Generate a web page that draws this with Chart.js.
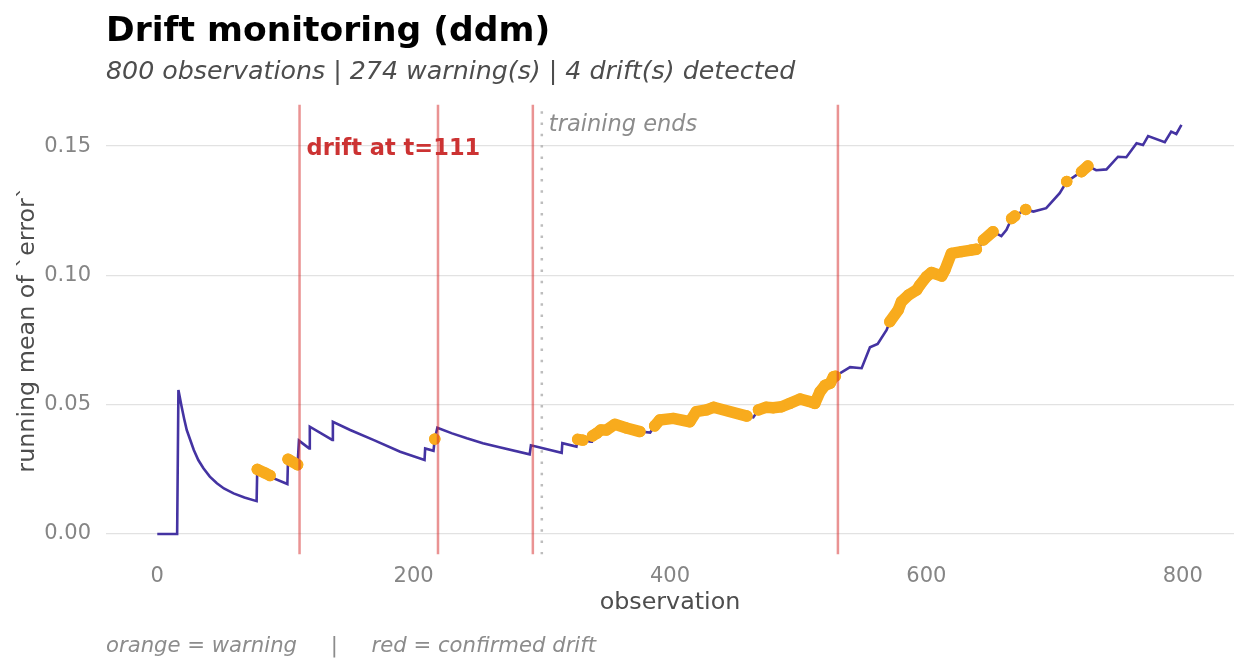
<!DOCTYPE html>
<html>
<head>
<meta charset="utf-8">
<title>Drift monitoring (ddm)</title>
<script src="https://cdn.jsdelivr.net/npm/chart.js@4.4.1/dist/chart.umd.min.js"></script>
<style>
  html, body { margin: 0; padding: 0; background: #ffffff; }
  #wrap { width: 1248px; height: 672px; }
</style>
</head>
<body>
<div id="wrap"><canvas id="driftChart" width="1248" height="672"></canvas></div>
<script>
// running mean of `error`, vertices
const obsX = [0, 15.5, 16.5, 19, 21, 23, 28.5, 32, 36, 41, 46.5, 52, 59.5, 68, 77.5, 78, 88, 90.5, 101.5, 102, 109.5,
  110.5, 118.5, 119, 136.5, 137, 150.5, 169, 189.5, 208.5, 209, 215.5, 216.5, 218.5, 230, 241.5, 254, 267, 290.5,
  291.5, 306.5, 315.5, 316, 327, 328, 333, 338.5, 339, 343, 346, 350.5, 357, 366, 376.5, 384.5, 388, 392,
  402.5, 415.5, 420.5, 428.5, 434, 460, 465, 469, 475, 480.5, 487, 493.5, 501.5, 509, 513, 517, 521, 525,
  527.5, 532.5, 540.5, 549.5, 556, 562, 569, 571.5, 578, 580.5, 586, 592.5, 595, 600, 604, 612, 614.5,
  619.5, 627.5, 635, 639, 641.5, 644.5, 652, 658.5, 662.5, 666.5, 669, 677.5, 683.5, 693.5, 704, 709.5,
  717, 721, 726, 732.5, 740.5, 749.5, 756, 764, 769, 773, 786, 791, 795, 799];
const runMean = [0, 0, 0.0557, 0.0492, 0.0445, 0.0402, 0.0325, 0.0286, 0.0254, 0.0222, 0.0196, 0.0176, 0.0157,
  0.0141, 0.0127, 0.0250, 0.0226, 0.0216, 0.0193, 0.0289, 0.0268,
  0.0361, 0.0331, 0.0415, 0.0364, 0.0434, 0.0402, 0.0363, 0.0318, 0.0286, 0.0331, 0.0322, 0.0367, 0.0411,
  0.0389, 0.0370, 0.0351, 0.0335, 0.0308,
  0.0343, 0.0325, 0.0314, 0.0351, 0.0338, 0.0366, 0.0362, 0.0357, 0.0379, 0.0390, 0.0402, 0.0402, 0.0424,
  0.0410, 0.0396, 0.0392, 0.0418, 0.0441,
  0.0447, 0.0434, 0.0473, 0.0480, 0.0490, 0.0456, 0.0451, 0.0480, 0.0490, 0.0488, 0.0492, 0.0505, 0.0522,
  0.0512, 0.0505, 0.0550, 0.0575, 0.0583,
  0.0608, 0.0621, 0.0645, 0.0641, 0.0722, 0.0735, 0.0789, 0.0821, 0.0866, 0.0898, 0.0924, 0.0944, 0.0963,
  0.0995, 0.1011, 0.0998, 0.1021,
  0.1085, 0.1092, 0.1098, 0.1101, 0.1110, 0.1137, 0.1169, 0.1152, 0.1176, 0.1220, 0.1230, 0.1255, 0.1247,
  0.1260, 0.1318, 0.1363,
  0.1388, 0.1401, 0.1423, 0.1407, 0.1410, 0.1459, 0.1457, 0.1511, 0.1504, 0.1539, 0.1515, 0.1556, 0.1547, 0.1582];

// warning observations (null splits the runs)
const warnX = [78, 84, 88, null, 102, 109.5, null, 216.5, null, 328, 332, null,
  339.5, 343, 346, 350.5, 357, 366, 376.5, null,
  388, 392, 402.5, 415.5, 420.5, 428.5, 434, 460, null,
  469, 475, 480.5, 487, 493.5, 501.5, 509, 513, 517, 521, 525, 527.5, 529, null,
  571.5, 578, 580.5, 586, 592.5, 595, 600, 604, 612, 614.5, 619.5, 627.5, 635, 639, null,
  644.5, 652, null, 666.5, 669, null, 677.5, null, 709.5, null, 721, 726];
const warnY = [0.0250, 0.0236, 0.0226, null, 0.0289, 0.0268, null, 0.0367, null, 0.0366, 0.0363, null,
  0.0379, 0.0390, 0.0402, 0.0402, 0.0424, 0.0410, 0.0396, null,
  0.0418, 0.0441, 0.0447, 0.0434, 0.0473, 0.0480, 0.0490, 0.0456, null,
  0.0480, 0.0490, 0.0488, 0.0492, 0.0505, 0.0522, 0.0512, 0.0505, 0.0550, 0.0575, 0.0583, 0.0608, 0.0610, null,
  0.0821, 0.0866, 0.0898, 0.0924, 0.0944, 0.0963, 0.0995, 0.1011, 0.0998, 0.1021, 0.1085, 0.1092, 0.1098, 0.1101, null,
  0.1137, 0.1169, null, 0.1220, 0.1230, null, 0.1255, null, 0.1363, null, 0.1401, 0.1423];

const driftAt = [111, 219, 293, 531];
const trainingEnd = 300;
const xTicks = [0, 200, 400, 600, 800];
const yTicks = [0, 0.05, 0.10, 0.15];
const xRange = [-40, 840];
const yRange = [-0.0079, 0.1661];

const FONT = "'DejaVu Sans', 'Liberation Sans', sans-serif";
const ORANGE = '#f8ab1d';

const datasets = [];
datasets.push({
  label: 'running mean',
  data: obsX.map((x, i) => ({ x: x, y: runMean[i] })),
  borderColor: '#4433a2',
  borderWidth: 2.6,
  pointRadius: 0,
  tension: 0,
  order: 3
});
datasets.push({
  label: 'warning',
  data: warnX.map((x, i) => ({ x: x, y: warnY[i] })),
  showLine: true,
  spanGaps: false,
  borderColor: ORANGE,
  borderWidth: 11.5,
  borderCapStyle: 'round',
  borderJoinStyle: 'round',
  pointRadius: 5.7,
  pointBackgroundColor: ORANGE,
  pointBorderWidth: 0,
  order: 2
});
driftAt.forEach(d => {
  datasets.push({
    label: 'drift ' + d,
    data: [{ x: d, y: yRange[0] }, { x: d, y: yRange[1] }],
    borderColor: 'rgba(214, 39, 40, 0.5)',
    borderWidth: 2.5,
    pointRadius: 0,
    order: 0
  });
});
datasets.push({
  label: 'training ends',
  data: [{ x: trainingEnd, y: yRange[0] }, { x: trainingEnd, y: yRange[1] }],
  borderColor: '#bdbdbd',
  borderWidth: 2.5,
  borderDash: [2.5, 8.8],
  pointRadius: 0,
  order: 1
});

// titles, notes and caption
const textPlugin = {
  id: 'textPlugin',
  afterDraw(chart) {
    const ctx = chart.ctx;
    const xs = chart.scales.x, ys = chart.scales.y;
    ctx.save();
    ctx.textBaseline = 'alphabetic';
    ctx.textAlign = 'left';

    ctx.fillStyle = '#000000';
    ctx.font = 'bold 34.5px ' + FONT;
    ctx.fillText('Drift monitoring (ddm)', 106, 40.5);

    ctx.fillStyle = '#4d4d4d';
    ctx.font = 'italic 25.3px ' + FONT;
    ctx.fillText('800 observations | 274 warning(s) | 4 drift(s) detected', 106, 79);

    ctx.fillStyle = '#cc3333';
    ctx.font = 'bold 22.5px ' + FONT;
    ctx.fillText('drift at t=' + driftAt[0], xs.getPixelForValue(driftAt[0]) + 7, ys.getPixelForValue(0.15) + 9);

    ctx.fillStyle = '#8c8c8c';
    ctx.font = 'italic 22.5px ' + FONT;
    ctx.fillText('training ends', xs.getPixelForValue(trainingEnd) + 7, 131);

    ctx.fillStyle = '#8c8c8c';
    ctx.font = 'italic 21.2px ' + FONT;
    ctx.fillText('orange = warning     |     red = confirmed drift', 106, 652);
    ctx.restore();
  }
};

const ctx = document.getElementById('driftChart').getContext('2d');
const chart = new Chart(ctx, {
  type: 'line',
  data: { datasets: datasets },
  options: {
    responsive: false,
    animation: false,
    devicePixelRatio: 1,
    layout: { padding: { top: 104.5, right: 14, bottom: 0, left: 0 } },
    plugins: {
      legend: { display: false },
      tooltip: { enabled: false },
      title: { display: false }
    },
    scales: {
      x: {
        type: 'linear',
        min: xRange[0],
        max: xRange[1],
        afterBuildTicks: s => { s.ticks = xTicks.map(v => ({ value: v })); },
        afterFit: s => { s.height = 117.6; },
        grid: { display: false, drawTicks: false },
        border: { display: false },
        ticks: { color: '#858585', font: { family: FONT, size: 21 }, padding: 10, maxRotation: 0 },
        title: { display: true, text: 'observation', color: '#4d4d4d', font: { family: FONT, size: 23.8 }, padding: { top: 0, bottom: 54.7 } }
      },
      y: {
        type: 'linear',
        min: yRange[0],
        max: yRange[1],
        afterBuildTicks: s => { s.ticks = yTicks.map(v => ({ value: v })); },
        afterFit: s => { s.width = 106; },
        grid: { color: '#e2e2e2', lineWidth: 1.3, drawTicks: false },
        border: { display: false },
        ticks: { color: '#858585', font: { family: FONT, size: 21 }, padding: 15, callback: v => v.toFixed(2) },
        title: { display: true, text: 'running mean of `error`', color: '#4d4d4d', font: { family: FONT, size: 23.8 }, padding: { top: 13.7, bottom: 0 } }
      }
    }
  },
  plugins: [textPlugin]
});
</script>
</body>
</html>
